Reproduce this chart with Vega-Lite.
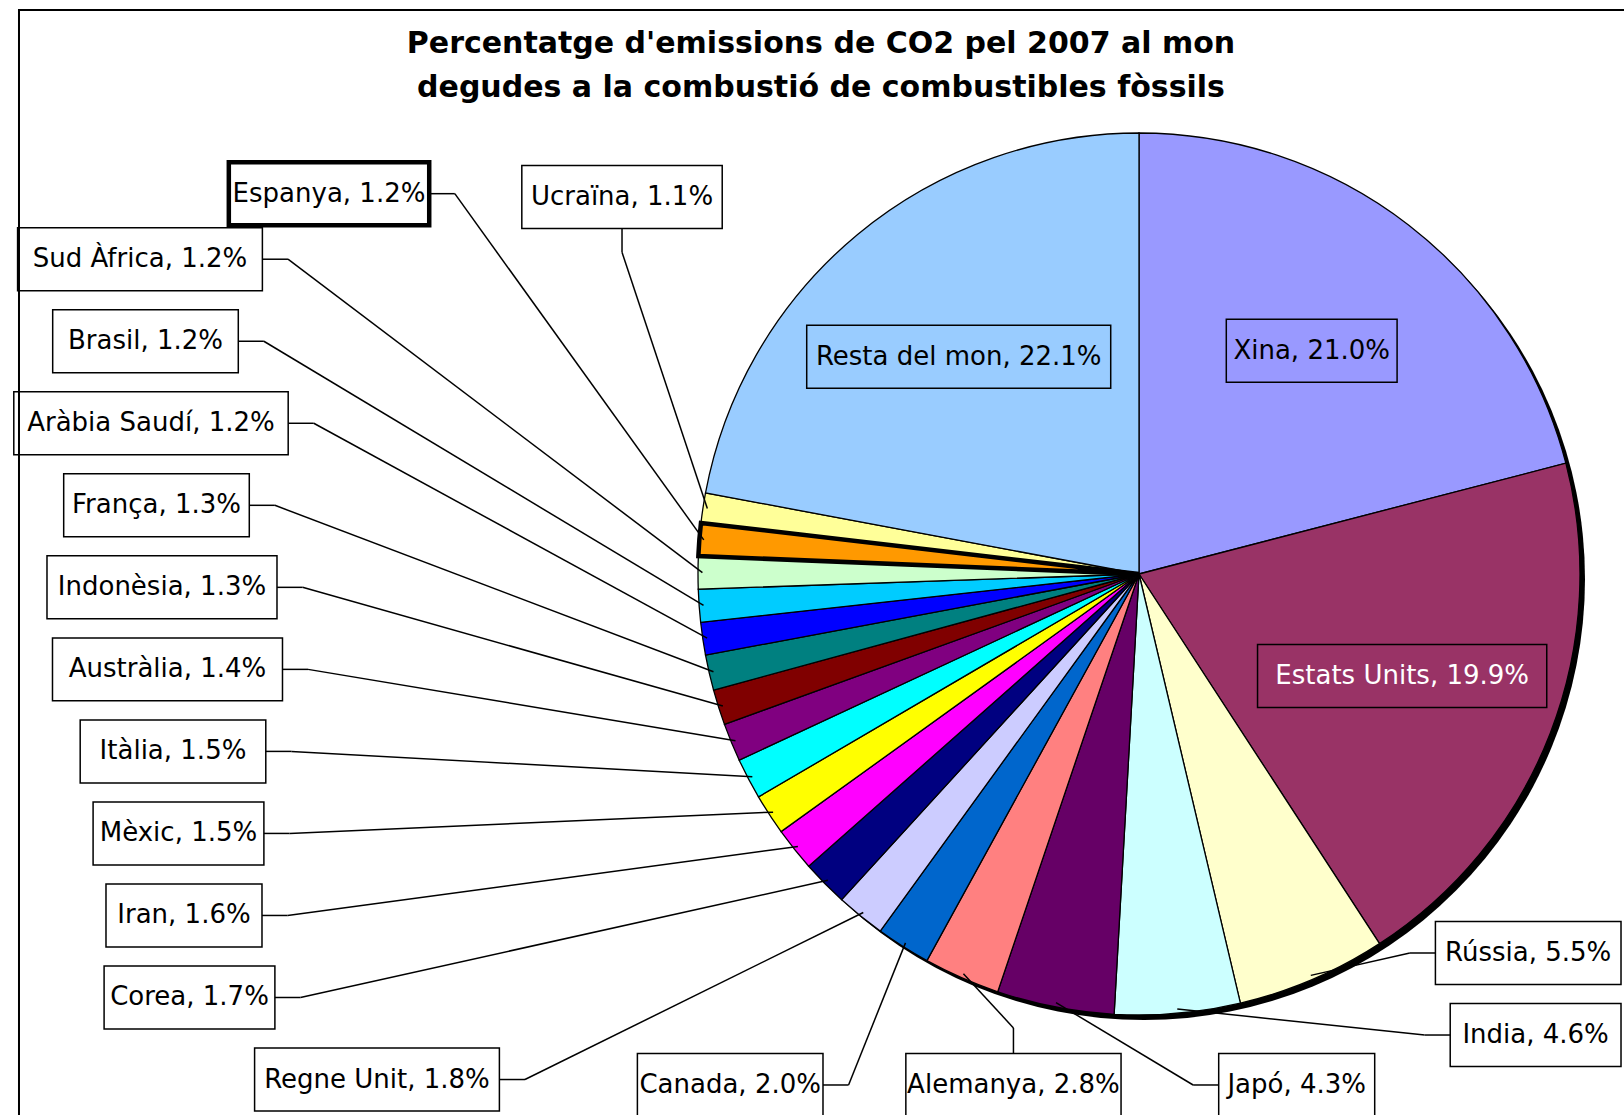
{
  "$schema": "https://vega.github.io/schema/vega-lite/v6.json",
  "width": 1624,
  "height": 1115,
  "autosize": {"type": "none"},
  "padding": 0,
  "background": "white",
  "config": {"view": {"stroke": null}},
  "title": {
    "text": ["Percentatge d'emissions de CO2 pel 2007 al mon", "degudes a la combustió de combustibles fòssils"],
    "font": "DejaVu Sans",
    "fontSize": 30,
    "fontWeight": "bold",
    "color": "black",
    "lineHeight": 44,
    "anchor": "middle",
    "frame": "group",
    "dx": 9,
    "offset": -103
  },
  "data": {
    "values": [
      {"country": "Xina", "pct": 21.0},
      {"country": "Estats Units", "pct": 19.9},
      {"country": "Rússia", "pct": 5.5},
      {"country": "India", "pct": 4.6},
      {"country": "Japó", "pct": 4.3},
      {"country": "Alemanya", "pct": 2.8},
      {"country": "Canada", "pct": 2.0},
      {"country": "Regne Unit", "pct": 1.8},
      {"country": "Corea", "pct": 1.7},
      {"country": "Iran", "pct": 1.6},
      {"country": "Mèxic", "pct": 1.5},
      {"country": "Itàlia", "pct": 1.5},
      {"country": "Austràlia", "pct": 1.4},
      {"country": "Indonèsia", "pct": 1.3},
      {"country": "França", "pct": 1.3},
      {"country": "Aràbia Saudí", "pct": 1.2},
      {"country": "Brasil", "pct": 1.2},
      {"country": "Sud Àfrica", "pct": 1.2},
      {"country": "Espanya", "pct": 1.2},
      {"country": "Ucraïna", "pct": 1.1},
      {"country": "Resta del mon", "pct": 22.1}
    ]
  },
  "transform": [
    {"window": [{"op": "row_number", "as": "idx"}]},
    {"joinaggregate": [{"op": "sum", "field": "pct", "as": "total"}]},
    {"window": [{"op": "sum", "field": "pct", "as": "cum"}], "sort": [{"field": "idx", "order": "ascending"}], "frame": [null, 0]},
    {"calculate": "2*PI*(datum.cum - datum.pct)/datum.total", "as": "a0"},
    {"calculate": "2*PI*datum.cum/datum.total", "as": "a1"},
    {"calculate": "(datum.a0 + datum.a1)/2", "as": "am"},
    {"calculate": "0.99*sin(datum.am)", "as": "sx"},
    {"calculate": "0.99*cos(datum.am)", "as": "sy"},
    {"calculate": "datum.country + ', ' + format(datum.pct, '.1f') + '%'", "as": "label"},
    {"calculate": "(14.8*length(datum.label) + 8)/441", "as": "w"},
    {"calculate": "(datum.idx==1 || datum.idx==2 || datum.idx==21) ? 'in' : datum.idx<=4 ? 'R' : datum.idx<=7 ? 'B' : datum.idx<=19 ? 'L' : 'T'", "as": "grp"},
    {"calculate": "(datum.grp=='L' || datum.idx==7) ? 'r' : (datum.grp=='R' || datum.idx==5) ? 'l' : datum.idx==6 ? 't' : 'b'", "as": "side"},
    {"calculate": "datum.grp=='in' ? 0.64*sin(datum.am) : datum.grp=='R' ? 1.093 - datum.w/2 : datum.grp=='B' ? 0.3576 - 0.6423*(datum.idx-5) : datum.grp=='T' ? -1.1723 : (datum.idx==19 ? -1.8367 : datum.idx==8 ? -1.7279 : -2.2778 + 0.012472*(19-datum.idx))", "as": "lx"},
    {"calculate": "datum.grp=='in' ? 0.64*cos(datum.am) : datum.grp=='R' ? -0.8594 - 0.186*(datum.idx-3) : datum.grp=='B' ? -1.1587 : datum.grp=='T' ? 0.8549 : datum.idx==19 ? 0.8624 : 0.8998 - 0.18601*(19-datum.idx)", "as": "ly"},
    {"calculate": "datum.lx - datum.w/2", "as": "bx0"},
    {"calculate": "datum.lx + datum.w/2", "as": "bx1"},
    {"calculate": "datum.ly - 0.0714", "as": "by0"},
    {"calculate": "datum.ly + 0.0714", "as": "by1"},
    {"calculate": "datum.side=='r' ? datum.bx1 : datum.side=='l' ? datum.bx0 : datum.lx", "as": "ax"},
    {"calculate": "datum.side=='t' ? datum.by1 : datum.side=='b' ? datum.by0 : datum.ly", "as": "ay"},
    {"calculate": "datum.side=='r' ? datum.ax + 0.058 : datum.side=='l' ? datum.ax - 0.058 : datum.ax", "as": "ex"},
    {"calculate": "datum.side=='t' ? datum.ay + 0.058 : datum.side=='b' ? datum.ay - 0.054 : datum.ay", "as": "ey"}
  ],
  "layer": [
    {
      "transform": [{"filter": "datum.idx == 1"}],
      "mark": {"type": "rect", "fill": null, "fillOpacity": 0, "stroke": "black", "strokeWidth": 2},
      "encoding": {
        "x": {"datum": -2.5397, "type": "quantitative", "scale": {"domain": [-2.582766, 1.099773], "nice": false, "zero": false}, "axis": null},
        "x2": {"datum": 1.5},
        "y": {"datum": 1.2789, "type": "quantitative", "scale": {"domain": [-1.226757, 1.301587], "nice": false, "zero": false}, "axis": null},
        "y2": {"datum": -1.5}
      }
    },
    {
      "transform": [{"filter": "datum.idx == 1"}],
      "mark": {"type": "arc", "outerRadius": 441, "theta": 0, "theta2": 6.2832, "fill": "black", "xOffset": 5, "yOffset": 5},
      "encoding": {
        "x": {"datum": 0, "type": "quantitative", "scale": {"domain": [-2.582766, 1.099773], "nice": false, "zero": false}, "axis": null},
        "y": {"datum": 0, "type": "quantitative", "scale": {"domain": [-1.226757, 1.301587], "nice": false, "zero": false}, "axis": null}
      }
    },
    {
      "mark": {"type": "arc", "outerRadius": 441, "stroke": "black", "strokeWidth": 1.3},
      "encoding": {
        "x": {"datum": 0, "type": "quantitative", "scale": {"domain": [-2.582766, 1.099773], "nice": false, "zero": false}, "axis": null},
        "y": {"datum": 0, "type": "quantitative", "scale": {"domain": [-1.226757, 1.301587], "nice": false, "zero": false}, "axis": null},
        "theta": {"field": "a0", "type": "quantitative", "scale": null, "stack": null},
        "theta2": {"field": "a1"},
        "color": {
          "field": "country", "type": "nominal", "legend": null,
          "scale": {
            "domain": ["Xina", "Estats Units", "Rússia", "India", "Japó", "Alemanya", "Canada", "Regne Unit", "Corea", "Iran", "Mèxic", "Itàlia", "Austràlia", "Indonèsia", "França", "Aràbia Saudí", "Brasil", "Sud Àfrica", "Espanya", "Ucraïna", "Resta del mon"],
            "range": ["#9999FF", "#993366", "#FFFFCC", "#CCFFFF", "#660066", "#FF8080", "#0066CC", "#CCCCFF", "#000080", "#FF00FF", "#FFFF00", "#00FFFF", "#800080", "#800000", "#008080", "#0000FF", "#00CCFF", "#CCFFCC", "#FF9900", "#FFFF99", "#99CCFF"]
          }
        }
      }
    },
    {
      "transform": [{"filter": "datum.country == 'Espanya'"}],
      "mark": {"type": "arc", "outerRadius": 441, "fill": null, "fillOpacity": 0, "stroke": "black", "strokeWidth": 4.5},
      "encoding": {
        "x": {"datum": 0, "type": "quantitative", "scale": {"domain": [-2.582766, 1.099773], "nice": false, "zero": false}, "axis": null},
        "y": {"datum": 0, "type": "quantitative", "scale": {"domain": [-1.226757, 1.301587], "nice": false, "zero": false}, "axis": null},
        "theta": {"field": "a0", "type": "quantitative", "scale": null, "stack": null},
        "theta2": {"field": "a1"}
      }
    },
    {
      "transform": [{"filter": "datum.grp != 'in'"}],
      "mark": {"type": "rule", "color": "black", "strokeWidth": 1.5},
      "encoding": {
        "x": {"field": "ax", "type": "quantitative", "scale": {"domain": [-2.582766, 1.099773], "nice": false, "zero": false}, "axis": null},
        "y": {"field": "ay", "type": "quantitative", "scale": {"domain": [-1.226757, 1.301587], "nice": false, "zero": false}, "axis": null},
        "x2": {"field": "ex"},
        "y2": {"field": "ey"}
      }
    },
    {
      "transform": [{"filter": "datum.grp != 'in'"}],
      "mark": {"type": "rule", "color": "black", "strokeWidth": 1.5},
      "encoding": {
        "x": {"field": "ex", "type": "quantitative", "scale": {"domain": [-2.582766, 1.099773], "nice": false, "zero": false}, "axis": null},
        "y": {"field": "ey", "type": "quantitative", "scale": {"domain": [-1.226757, 1.301587], "nice": false, "zero": false}, "axis": null},
        "x2": {"field": "sx"},
        "y2": {"field": "sy"}
      }
    },
    {
      "mark": {"type": "rect", "fill": null, "fillOpacity": 0, "stroke": "black"},
      "encoding": {
        "x": {"field": "bx0", "type": "quantitative", "scale": {"domain": [-2.582766, 1.099773], "nice": false, "zero": false}, "axis": null},
        "x2": {"field": "bx1"},
        "y": {"field": "by0", "type": "quantitative", "scale": {"domain": [-1.226757, 1.301587], "nice": false, "zero": false}, "axis": null},
        "y2": {"field": "by1"},
        "strokeWidth": {"condition": {"test": "datum.country == 'Espanya'", "value": 4.5}, "value": 1.5}
      }
    },
    {
      "mark": {"type": "text", "font": "DejaVu Sans", "fontSize": 26, "align": "center", "baseline": "middle"},
      "encoding": {
        "x": {"field": "lx", "type": "quantitative", "scale": {"domain": [-2.582766, 1.099773], "nice": false, "zero": false}, "axis": null},
        "y": {"field": "ly", "type": "quantitative", "scale": {"domain": [-1.226757, 1.301587], "nice": false, "zero": false}, "axis": null},
        "text": {"field": "label"},
        "color": {"condition": {"test": "datum.idx == 2", "value": "white"}, "value": "black"}
      }
    }
  ]
}
